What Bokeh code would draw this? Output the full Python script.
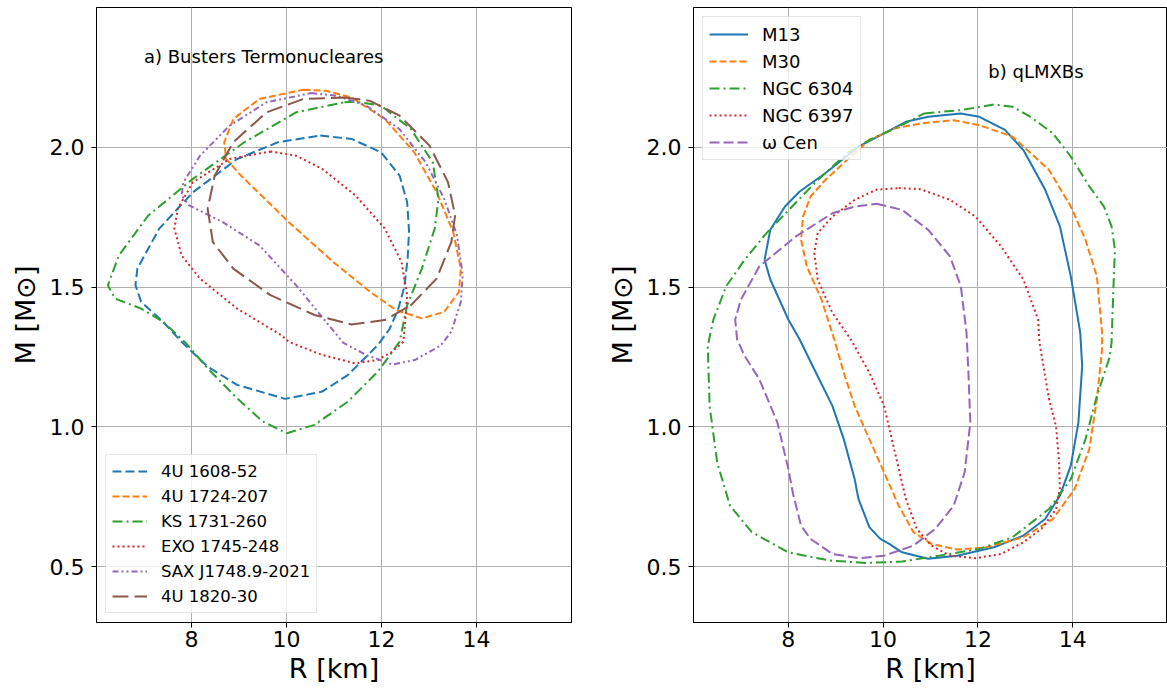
from bokeh.plotting import figure
from bokeh.layouts import row
from bokeh.models import Range1d, FixedTicker, PrintfTickFormatter, Label
from bokeh.embed import file_html
from bokeh.resources import INLINE

# ---------------- data: panel a) thermonuclear bursters ----------------
labels_a = ["4U 1608-52", "4U 1724-207", "KS 1731-260", "EXO 1745-248", "SAX J1748.9-2021", "4U 1820-30"]

R_1608 = [10.71, 11.37, 11.99, 12.38, 12.54, 12.58, 12.55, 12.48, 12.35, 12.17, 11.92, 11.29, 10.75, 9.97, 8.96, 8.34, 7.79, 7.40, 6.94, 6.82, 6.86, 7.32, 8.03, 8.96, 9.82]
M_1608 = [2.042, 2.030, 1.982, 1.899, 1.804, 1.700, 1.600, 1.500, 1.420, 1.350, 1.292, 1.185, 1.126, 1.100, 1.150, 1.215, 1.304, 1.376, 1.447, 1.507, 1.566, 1.709, 1.839, 1.958, 2.018]

R_1724 = [10.36, 10.83, 11.37, 12.07, 12.69, 13.16, 13.51, 13.67, 13.63, 13.32, 12.85, 12.31, 11.76, 10.98, 10.05, 9.04, 8.73, 8.69, 8.88, 9.43]
M_1724 = [2.206, 2.202, 2.178, 2.101, 1.982, 1.839, 1.697, 1.566, 1.483, 1.411, 1.388, 1.417, 1.483, 1.590, 1.732, 1.899, 1.958, 2.018, 2.101, 2.173]

R_1731 = [11.22, 11.45, 11.99, 12.62, 13.08, 13.20, 13.12, 12.85, 12.54, 12.38, 11.92, 11.29, 10.59, 10.01, 9.50, 8.96, 8.34, 7.88, 7.40, 6.94, 6.39, 6.24, 6.47, 7.09, 8.03, 9.11, 10.20]
M_1731 = [2.161, 2.163, 2.149, 2.065, 1.946, 1.815, 1.709, 1.566, 1.435, 1.304, 1.197, 1.090, 1.007, 0.977, 1.019, 1.102, 1.209, 1.300, 1.376, 1.423, 1.459, 1.506, 1.613, 1.756, 1.887, 2.018, 2.125]

R_1745 = [9.66, 10.20, 10.75, 11.45, 12.07, 12.42, 12.54, 12.50, 12.46, 12.23, 11.92, 11.45, 10.75, 10.05, 9.89, 8.96, 8.18, 7.79, 7.64, 7.71, 8.03, 8.80]
M_1745 = [1.985, 1.970, 1.923, 1.828, 1.709, 1.590, 1.471, 1.380, 1.304, 1.269, 1.239, 1.227, 1.257, 1.304, 1.328, 1.423, 1.530, 1.613, 1.709, 1.780, 1.875, 1.958]

R_1748 = [10.52, 11.06, 11.68, 12.38, 12.93, 13.32, 13.59, 13.71, 13.67, 13.47, 13.24, 12.70, 12.23, 11.68, 11.20, 10.83, 10.20, 9.43, 8.65, 7.95, 7.79, 7.83, 8.18, 8.80, 9.58]
M_1748 = [2.194, 2.184, 2.149, 2.065, 1.946, 1.816, 1.685, 1.542, 1.447, 1.340, 1.290, 1.239, 1.223, 1.257, 1.300, 1.376, 1.507, 1.649, 1.733, 1.792, 1.828, 1.875, 1.970, 2.077, 2.161]

R_1820 = [11.22, 11.76, 12.38, 13.01, 13.40, 13.55, 13.47, 13.16, 12.62, 12.07, 11.37, 10.59, 9.66, 8.88, 8.45, 8.34, 8.49, 8.88, 9.58, 10.36]
M_1820 = [2.178, 2.166, 2.113, 2.006, 1.875, 1.756, 1.661, 1.530, 1.435, 1.382, 1.366, 1.400, 1.471, 1.566, 1.661, 1.780, 1.899, 2.018, 2.125, 2.173]

# ---------------- data: panel b) qLMXBs ----------------
labels_b = ["M13", "M30", "NGC 6304", "NGC 6397", "\u03c9 Cen"]

R_M13 = [7.50, 7.62, 7.93, 8.24, 8.78, 9.48, 10.09, 10.48, 10.95, 11.64, 12.03, 12.57, 12.96, 13.42, 13.73, 13.96, 14.16, 14.20, 14.12, 13.96, 13.73, 13.42, 12.96, 12.34, 11.56, 10.95, 10.40, 10.13, 9.94, 9.71, 9.48, 9.40, 9.17, 8.93, 8.55, 8.24, 8.00, 7.62, 7.54]
M_M13 = [1.598, 1.705, 1.788, 1.842, 1.907, 2.002, 2.056, 2.091, 2.109, 2.121, 2.109, 2.062, 1.990, 1.848, 1.717, 1.538, 1.336, 1.217, 1.015, 0.861, 0.754, 0.670, 0.611, 0.569, 0.539, 0.528, 0.551, 0.581, 0.599, 0.641, 0.742, 0.813, 0.956, 1.075, 1.205, 1.3125, 1.384, 1.527, 1.574]

R_M30 = [8.39, 8.27, 8.31, 8.47, 8.78, 9.24, 9.71, 10.25, 10.79, 11.49, 12.03, 12.73, 13.50, 13.96, 14.27, 14.51, 14.62, 14.62, 14.51, 14.35, 14.04, 13.58, 12.96, 12.18, 11.56, 11.02, 10.64, 10.33, 10.02, 9.71, 9.40, 9.17, 8.97, 8.70]
M_M30 = [1.574, 1.669, 1.752, 1.824, 1.883, 1.955, 2.026, 2.068, 2.085, 2.097, 2.079, 2.038, 1.919, 1.788, 1.669, 1.538, 1.336, 1.277, 1.098, 0.920, 0.777, 0.670, 0.605, 0.569, 0.561, 0.581, 0.623, 0.718, 0.837, 0.956, 1.075, 1.194, 1.3125, 1.455]

R_6304 = [10.87, 11.64, 12.34, 12.73, 13.11, 13.58, 13.96, 14.35, 14.66, 14.82, 14.89, 14.85, 14.82, 14.78, 14.51, 14.27, 13.96, 13.50, 12.73, 12.03, 11.18, 10.40, 9.63, 8.86, 8.00, 7.23, 6.77, 6.50, 6.34, 6.30, 6.42, 6.69, 7.08, 7.54, 8.08, 8.62, 9.24, 9.71, 10.33]
M_6304 = [2.121, 2.133, 2.153, 2.145, 2.109, 2.050, 1.967, 1.860, 1.788, 1.717, 1.634, 1.455, 1.300, 1.250, 1.110, 0.956, 0.813, 0.706, 0.605, 0.563, 0.539, 0.518, 0.513, 0.522, 0.551, 0.623, 0.718, 0.872, 1.075, 1.289, 1.384, 1.503, 1.598, 1.693, 1.788, 1.883, 1.978, 2.026, 2.074]

R_6397 = [10.33, 10.79, 11.41, 11.95, 12.49, 12.96, 13.27, 13.30, 13.50, 13.65, 13.71, 13.73, 13.65, 13.34, 12.96, 12.49, 11.95, 11.41, 11.02, 10.71, 10.48, 10.25, 10.02, 9.71, 9.32, 8.93, 8.62, 8.55, 8.62, 8.93, 9.40, 9.86]
M_6397 = [1.854, 1.850, 1.812, 1.752, 1.645, 1.527, 1.384, 1.300, 1.100, 1.000, 0.880, 0.780, 0.706, 0.635, 0.587, 0.545, 0.530, 0.539, 0.575, 0.635, 0.742, 0.908, 1.075, 1.194, 1.3125, 1.408, 1.527, 1.622, 1.693, 1.752, 1.812, 1.848]

R_wCen = [9.86, 10.40, 10.95, 11.41, 11.64, 11.76, 11.80, 11.84, 11.72, 11.49, 11.10, 10.64, 10.02, 9.48, 8.93, 8.47, 8.27, 8.10, 8.00, 7.77, 7.39, 7.08, 6.92, 6.88, 7.00, 7.39, 8.16, 8.93, 9.40]
M_wCen = [1.798, 1.776, 1.705, 1.610, 1.503, 1.336, 1.194, 1.015, 0.837, 0.718, 0.635, 0.575, 0.539, 0.530, 0.545, 0.599, 0.646, 0.760, 0.850, 1.015, 1.170, 1.253, 1.3125, 1.384, 1.455, 1.574, 1.681, 1.764, 1.788]

x_ticks = [8, 10, 12, 14]
y_ticks = [0.5, 1.0, 1.5, 2.0]

colors = ["#1f77b4", "#ff7f0e", "#2ca02c", "#d62728", "#9467bd", "#8c564b"]
FONT = "DejaVu Sans"


def closed(a):
    return list(a) + [a[0]]


def make_fig(width, border_left, border_right, border_top, border_bottom):
    p = figure(width=width, height=693, output_backend="svg", toolbar_location=None,
               x_range=Range1d(6, 16), y_range=Range1d(0.3, 2.5),
               min_border_left=border_left, min_border_right=border_right,
               min_border_top=border_top, min_border_bottom=border_bottom)
    p.background_fill_color = "white"
    p.border_fill_color = "white"
    p.outline_line_color = "black"
    p.outline_line_width = 1
    p.outline_line_alpha = 1.0
    p.xaxis.ticker = FixedTicker(ticks=x_ticks)
    p.yaxis.ticker = FixedTicker(ticks=y_ticks)
    p.yaxis.formatter = PrintfTickFormatter(format="%.1f")
    p.xaxis.axis_label = "R [km]"
    p.yaxis.axis_label = "M [M\u2299]"
    for ax in (p.xaxis[0], p.yaxis[0]):
        ax.major_label_text_font = FONT
        ax.major_label_text_font_size = "22px"
        ax.major_label_text_color = "black"
        ax.axis_label_text_font = FONT
        ax.axis_label_text_font_size = "27px"
        ax.axis_label_text_font_style = "normal"
        ax.axis_label_text_color = "black"
        ax.minor_tick_line_color = None
        ax.major_tick_out = 5
        ax.major_tick_in = 0
        ax.major_tick_line_color = "black"
        ax.axis_line_color = "black"
    p.xaxis.major_label_standoff = 3
    p.xaxis.axis_label_standoff = 3
    p.yaxis.major_label_standoff = 7
    p.yaxis.axis_label_standoff = 6
    p.grid.grid_line_color = "#b0b0b0"
    p.grid.grid_line_width = 1
    return p


# ---------------- panel a ----------------
pa = make_fig(600, 96, 29, 5, 71)
series_a = [(R_1608, M_1608, "9 4"), (R_1724, M_1724, "7 3"), (R_1731, M_1731, "10 4 2 4"),
            (R_1745, M_1745, "2 3"), (R_1748, M_1748, "6 3 2 3 2 3"), (R_1820, M_1820, "16 6")]
for (r, m, dash), lab, col in zip(series_a, labels_a, colors):
    pa.line(closed(r), closed(m), line_color=col, line_width=2, line_dash=dash, legend_label=lab)

pa.add_layout(Label(x=7.0, y=2.3235, text="a) Busters Termonucleares", text_baseline="middle",
                    text_font=FONT, text_font_size="18px", text_color="black"))

lg = pa.legend[0]
lg.location = "bottom_left"
lg.margin = 9
lg.padding = 6
lg.spacing = 5
lg.glyph_width = 35
lg.glyph_height = 20
lg.label_height = 20
lg.label_standoff = 14
lg.label_text_font = FONT
lg.label_text_font_size = "16.5px"
lg.label_text_color = "black"
lg.border_line_color = "#cccccc"
lg.border_line_width = 1
lg.background_fill_alpha = 0.8

# ---------------- panel b ----------------
pb = make_fig(567, 93, 0, 7, 69)
series_b = [(R_M13, M_M13, "solid"), (R_M30, M_M30, "7 3"), (R_6304, M_6304, "10 4 2 4"),
            (R_6397, M_6397, "2 3"), (R_wCen, M_wCen, "10 4")]
for (r, m, dash), lab, col in zip(series_b, labels_b, colors):
    pb.line(closed(r), closed(m), line_color=col, line_width=2, line_dash=dash, legend_label=lab)

pb.add_layout(Label(x=12.22, y=2.270, text="b) qLMXBs", text_baseline="middle",
                    text_font=FONT, text_font_size="18px", text_color="black"))

lb = pb.legend[0]
lb.location = "top_left"
lb.margin = 9
lb.padding = 6
lb.spacing = 5
lb.glyph_width = 39
lb.glyph_height = 22
lb.label_height = 22
lb.label_standoff = 14
lb.label_text_font = FONT
lb.label_text_font_size = "18px"
lb.label_text_color = "black"
lb.border_line_color = "#cccccc"
lb.border_line_width = 1
lb.background_fill_alpha = 0.8

layout = row(pa, pb)
open("out.html", "w").write(file_html(layout, INLINE))
